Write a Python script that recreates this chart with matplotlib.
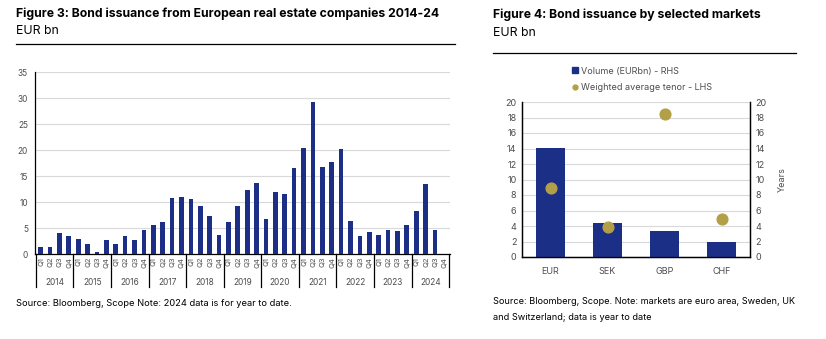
import matplotlib.pyplot as plt
from matplotlib.lines import Line2D
import numpy as np

plt.rcParams['font.family'] = ['Inter', 'DejaVu Sans']

# Figure 3: quarterly issuance, EUR bn
years = ['2014', '2015', '2016', '2017', '2018', '2019', '2020',
         '2021', '2022', '2023', '2024']
quarters = ['Q1', 'Q2', 'Q3', 'Q4']
issuance = [1.3, 1.4, 4.1, 3.5,
            2.8, 1.9, 0.3, 2.6,
            1.9, 3.4, 2.6, 4.6,
            5.5, 6.1, 10.7, 10.9,
            10.6, 9.3, 7.3, 3.7,
            6.2, 9.3, 12.4, 13.6,
            6.7, 11.9, 11.6, 16.5,
            20.3, 29.3, 16.7, 17.7,
            20.1, 6.3, 3.5, 4.3,
            3.7, 4.7, 4.4, 5.6,
            8.3, 13.5, 4.6, 0.0]

# Figure 4: by market
markets = ['EUR', 'SEK', 'GBP', 'CHF']
volume = [14.1, 4.4, 3.4, 2.0]
tenor = [8.9, 3.9, 18.4, 4.85]

NAVY = '#1b2f86'
GOLD = '#b39f45'
GRID = '#d9d9d9'
TICK = '#4d4d4d'

fig = plt.figure(figsize=(8.26, 3.39), dpi=100)

# ---- left panel ----
fig.text(16 / 826, 1 - 14 / 339, 'Figure 3: Bond issuance from European real estate companies 2014-24',
         fontsize=8.8, fontweight='bold', va='center', ha='left')
fig.text(16 / 826, 1 - 31 / 339, 'EUR bn', fontsize=8.8, va='center', ha='left')
fig.add_artist(Line2D([16 / 826, 455 / 826], [1 - 44 / 339, 1 - 44 / 339],
                      color='black', lw=0.9, transform=fig.transFigure))

ax = fig.add_axes([35 / 826, 1 - 254 / 339, 415 / 826, 182 / 339])
x = np.arange(len(issuance))
ax.bar(x, issuance, width=0.5, color=NAVY, zorder=3)
ax.set_xlim(-0.6, len(issuance) - 0.4)
ax.set_ylim(0, 35)
ax.set_yticks(np.arange(0, 36, 5))
ax.yaxis.grid(True, color=GRID, lw=0.8, zorder=0)
ax.tick_params(axis='y', length=0, pad=5, labelsize=6, labelcolor=TICK)
ax.set_xticks(x)
ax.set_xticklabels(quarters * len(years), rotation=90, fontsize=5.5, color=TICK)
ax.tick_params(axis='x', length=0, pad=2)
for side in ['top', 'right']:
    ax.spines[side].set_visible(False)
for side in ['left', 'bottom']:
    ax.spines[side].set_color('black')
    ax.spines[side].set_linewidth(0.9)

# year groups under the quarter labels
trans = ax.get_xaxis_transform()
for i, yr in enumerate(years):
    ax.text(i * 4 + 1.5, -0.155, yr, transform=trans, ha='center', va='center',
            fontsize=6, color=TICK)
for i in range(len(years) + 1):
    ax.plot([i * 4 - 0.5] * 2, [0, -0.18], transform=trans, color='black',
            lw=0.9, clip_on=False)

fig.text(16 / 826, 1 - 304 / 339, 'Source: Bloomberg, Scope Note: 2024 data is for year to date.',
         fontsize=6.7, va='center', ha='left')

# ---- right panel ----
fig.text(493 / 826, 1 - 15 / 339, 'Figure 4: Bond issuance by selected markets',
         fontsize=8.8, fontweight='bold', va='center', ha='left')
fig.text(493 / 826, 1 - 33 / 339, 'EUR bn', fontsize=8.8, va='center', ha='left')
fig.add_artist(Line2D([493 / 826, 796 / 826], [1 - 53 / 339, 1 - 53 / 339],
                      color='black', lw=0.9, transform=fig.transFigure))

ax2 = fig.add_axes([522 / 826, 1 - 257 / 339, 228 / 826, 155 / 339])
pos = np.arange(len(markets))
ax2.bar(pos, volume, width=0.5, color=NAVY, zorder=3, label='Volume (EURbn) - RHS')
ax2.set_xlim(-0.5, len(markets) - 0.5)
ax2.set_ylim(0, 20)
ax2.set_yticks(np.arange(0, 21, 2))
ax2.yaxis.grid(True, color=GRID, lw=0.8, zorder=0)
ax2.set_xticks(pos)
ax2.set_xticklabels(markets, fontsize=6.5, color=TICK)
ax2.tick_params(axis='x', length=0, pad=7)
ax2.tick_params(axis='y', length=0, pad=4, labelsize=6.5, labelcolor=TICK)
ax2.spines['top'].set_visible(False)
for side in ['left', 'right', 'bottom']:
    ax2.spines[side].set_color('black')
    ax2.spines[side].set_linewidth(0.9)

ax3 = ax2.twinx()
ax3.scatter(pos, tenor, s=60, color=GOLD, zorder=4, label='Weighted average tenor - LHS')
ax3.set_ylim(0, 20)
ax3.set_yticks(np.arange(0, 21, 2))
ax3.tick_params(axis='y', length=0, pad=4, labelsize=6.5, labelcolor=TICK)
ax3.set_ylabel('Years', fontsize=6.5, color=TICK, labelpad=8)
ax3.spines['top'].set_visible(False)
for side in ['left', 'right', 'bottom']:
    ax3.spines[side].set_color('black')
    ax3.spines[side].set_linewidth(0.9)

handles = [Line2D([], [], marker='s', color=NAVY, lw=0, markersize=5),
           Line2D([], [], marker='o', color=GOLD, lw=0, markersize=3.5)]
fig.legend(handles, ['Volume (EURbn) - RHS', 'Weighted average tenor - LHS'],
           loc='upper left', bbox_to_anchor=(568 / 826, 1 - 62 / 339),
           frameon=False, fontsize=6.5, labelcolor=TICK, handlelength=0.6,
           handletextpad=0.3, labelspacing=0.85, borderpad=0)

fig.text(493 / 826, 1 - 302 / 339, 'Source: Bloomberg, Scope. Note: markets are euro area, Sweden, UK',
         fontsize=6.6, va='center', ha='left')
fig.text(493 / 826, 1 - 317 / 339, 'and Switzerland; data is year to date',
         fontsize=6.6, va='center', ha='left')

fig.savefig('out.png', dpi=100)
